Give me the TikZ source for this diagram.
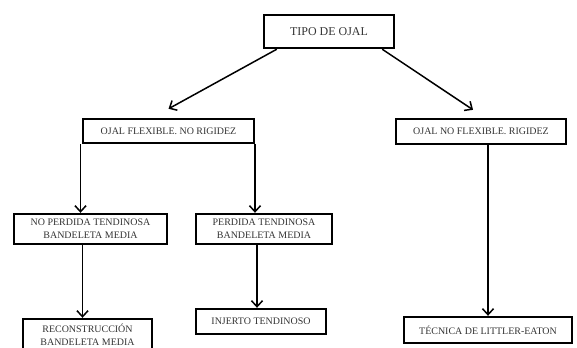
\documentclass[tikz,border=0pt]{standalone}
\usepackage{fontspec}
\setmainfont{Liberation Serif}
\usetikzlibrary{arrows.meta}
\begin{document}
\begin{tikzpicture}[x=1bp,y=-1bp,
  caja/.style={draw,line width=2.4bp,inner sep=0pt,align=center,
    text=black!80,font=\fontsize{10}{13}\selectfont},
  flecha/.style={line width=1.5bp,-{Straight Barb[length=6bp,width=11bp]}}]
\useasboundingbox (0,0) rectangle (577,347);
% root
\node[caja,minimum width=130bp,minimum height=33bp,font=\fontsize{12}{14}\selectfont] (tipo) at (329,31.5) {TIPO DE OJAL};
% second level
\node[caja,minimum width=171bp,minimum height=24bp] (flex) at (168.5,131) {OJAL FLEXIBLE. NO RIGIDEZ};
\node[caja,minimum width=170bp,minimum height=25bp] (noflex) at (481,131.5) {OJAL NO FLEXIBLE. RIGIDEZ};
% third level
\node[caja,minimum width=153bp,minimum height=30bp] (noperd) at (90.5,229) {NO PERDIDA TENDINOSA\\BANDELETA MEDIA};
\node[caja,minimum width=136bp,minimum height=30bp] (perd) at (264,229) {PERDIDA TENDINOSA\\BANDELETA MEDIA};
% leaves
\node[caja,minimum width=129bp,minimum height=32bp] (recons) at (87.5,335) {RECONSTRUCCIÓN\\BANDELETA MEDIA};
\node[caja,minimum width=130bp,minimum height=25bp] (injerto) at (261,321.5) {INJERTO TENDINOSO};
\node[caja,minimum width=168bp,minimum height=26bp] (littler) at (488,330) {TÉCNICA DE LITTLER-EATON};
% connectors
\draw[flecha] ([xshift=14bp]tipo.south west) -- ([yshift=9bp]flex.north);
\draw[flecha] ([xshift=-13bp]tipo.south east) -- ([xshift=-8bp,yshift=8bp]noflex.north);
\draw[flecha] ([xshift=-10bp]noperd.north |- flex.south) -- ([xshift=-10bp]noperd.north);
\draw[flecha] ([xshift=-9bp]perd.north |- flex.south) -- ([xshift=-9bp]perd.north);
\draw[flecha] ([xshift=-5bp]recons.north |- noperd.south) -- ([xshift=-5bp]recons.north);
\draw[flecha] ([xshift=-4bp]injerto.north |- perd.south) -- ([xshift=-4bp]injerto.north);
\draw[flecha] (littler.north |- noflex.south) -- (littler.north);
\end{tikzpicture}
\end{document}
